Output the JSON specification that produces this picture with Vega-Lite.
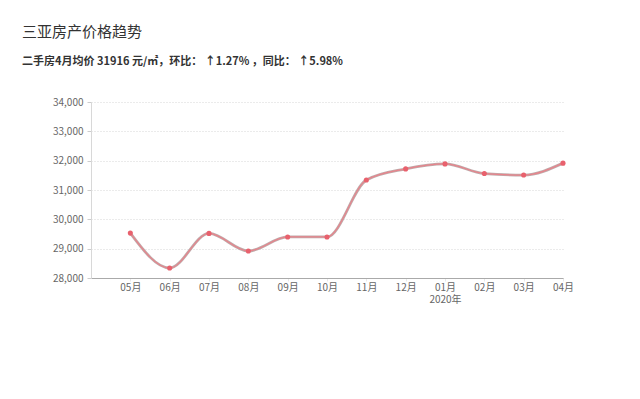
{
  "$schema": "https://vega.github.io/schema/vega-lite/v6.json",
  "width": 477,
  "height": 176,
  "autosize": {"type": "none"},
  "padding": {"left": 91, "top": 102, "right": 72, "bottom": 121},
  "background": "#ffffff",
  "config": {
    "font": "Noto Sans CJK SC",
    "view": {"stroke": null}
  },
  "title": {
    "text": "三亚房产价格趋势",
    "subtitle": "二手房4月均价 31916 元/㎡，环比： ↑1.27% ，同比： ↑5.98%",
    "anchor": "start",
    "frame": "group",
    "dx": -69,
    "offset": 30,
    "fontSize": 15,
    "fontWeight": "normal",
    "color": "#333333",
    "subtitleFontSize": 11,
    "subtitleFontWeight": "bold",
    "subtitleColor": "#333333",
    "subtitlePadding": 16
  },
  "data": {
    "values": [
      {"month": "05月", "price": 29530},
      {"month": "06月", "price": 28340},
      {"month": "07月", "price": 29520},
      {"month": "08月", "price": 28920},
      {"month": "09月", "price": 29400},
      {"month": "10月", "price": 29400},
      {"month": "11月", "price": 31340},
      {"month": "12月", "price": 31720},
      {"month": "01月", "price": 31890},
      {"month": "02月", "price": 31560},
      {"month": "03月", "price": 31510},
      {"month": "04月", "price": 31916}
    ]
  },
  "encoding": {
    "x": {
      "field": "month",
      "type": "ordinal",
      "sort": null,
      "scale": {
        "type": "point",
        "domain": ["", "05月", "06月", "07月", "08月", "09月", "10月", "11月", "12月", "01月", "02月", "03月", "04月"],
        "range": [0, 472],
        "padding": 0
      },
      "axis": {
        "title": null,
        "values": ["05月", "06月", "07月", "08月", "09月", "10月", "11月", "12月", "01月", "02月", "03月", "04月"],
        "labelAngle": 0,
        "labelExpr": "datum.value == '01月' ? ['01月', '2020年'] : datum.value",
        "labelLineHeight": 12,
        "labelColor": "#666666",
        "labelFontSize": 10,
        "labelPadding": 1,
        "domainColor": "#aaaaaa",
        "tickColor": "#e8e8e8",
        "tickSize": 3,
        "grid": false
      }
    },
    "y": {
      "field": "price",
      "type": "quantitative",
      "scale": {"domain": [28000, 34000], "nice": false, "zero": false},
      "axis": {
        "title": null,
        "values": [28000, 29000, 30000, 31000, 32000, 33000, 34000],
        "format": ",d",
        "labelColor": "#666666",
        "labelFontSize": 10,
        "labelPadding": 4,
        "domainColor": "#d8d8d8",
        "tickColor": "#cccccc",
        "tickSize": 4,
        "grid": true,
        "gridColor": "#d6d6d6",
        "gridDash": [1, 2]
      }
    }
  },
  "layer": [
    {
      "mark": {"type": "line", "interpolate": "monotone", "stroke": "#b39c9c", "strokeWidth": 2.8, "strokeOpacity": 0.85}
    },
    {
      "mark": {"type": "line", "interpolate": "monotone", "stroke": "#e8838b", "strokeWidth": 1.2}
    },
    {
      "mark": {"type": "point", "filled": true, "size": 26, "color": "#e8616d", "opacity": 1}
    }
  ]
}
